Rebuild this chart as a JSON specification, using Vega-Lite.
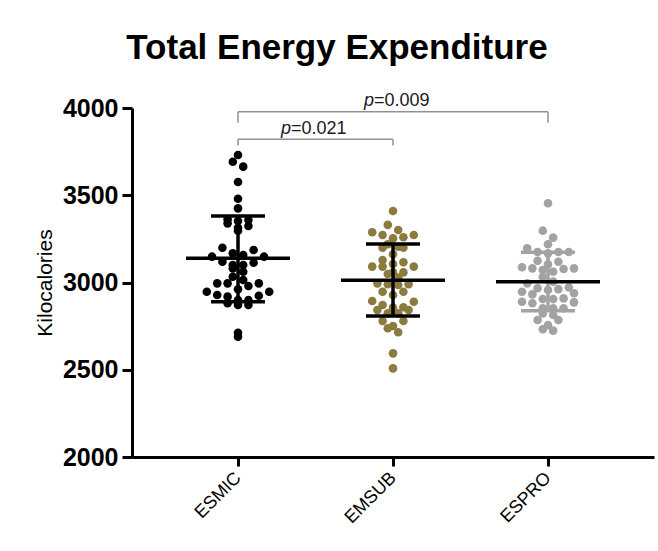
{
  "$schema": "https://vega.github.io/schema/vega-lite/v6.json",
  "width": 522,
  "height": 349,
  "autosize": "none",
  "padding": {"left": 132, "top": 108, "right": 4, "bottom": 94},
  "background": "white",
  "config": {
    "font": "Liberation Sans",
    "view": {"stroke": null},
    "axis": {"labelFont": "Liberation Sans", "titleFont": "Liberation Sans", "labelColor": "black", "titleColor": "black", "domainColor": "black", "tickColor": "black", "grid": false}
  },
  "title": {
    "text": "Total Energy Expenditure",
    "font": "Liberation Sans",
    "fontSize": 35,
    "fontWeight": "bold",
    "color": "black",
    "anchor": "middle",
    "baseline": "alphabetic",
    "offset": -2,
    "dx": -56
  },
  "datasets": {
    "points": [
      {"group": "ESMIC", "kcal": 3731}, {"group": "ESMIC", "kcal": 3692}, {"group": "ESMIC", "kcal": 3664}, {"group": "ESMIC", "kcal": 3576},
      {"group": "ESMIC", "kcal": 3480}, {"group": "ESMIC", "kcal": 3425}, {"group": "ESMIC", "kcal": 3352}, {"group": "ESMIC", "kcal": 3324},
      {"group": "ESMIC", "kcal": 3362}, {"group": "ESMIC", "kcal": 3358}, {"group": "ESMIC", "kcal": 3314}, {"group": "ESMIC", "kcal": 3339},
      {"group": "ESMIC", "kcal": 3297}, {"group": "ESMIC", "kcal": 3186}, {"group": "ESMIC", "kcal": 3199}, {"group": "ESMIC", "kcal": 3158},
      {"group": "ESMIC", "kcal": 3148}, {"group": "ESMIC", "kcal": 3167}, {"group": "ESMIC", "kcal": 3119}, {"group": "ESMIC", "kcal": 3148},
      {"group": "ESMIC", "kcal": 3113}, {"group": "ESMIC", "kcal": 3100}, {"group": "ESMIC", "kcal": 3100}, {"group": "ESMIC", "kcal": 3081},
      {"group": "ESMIC", "kcal": 3062}, {"group": "ESMIC", "kcal": 3033}, {"group": "ESMIC", "kcal": 3014}, {"group": "ESMIC", "kcal": 2995},
      {"group": "ESMIC", "kcal": 2995}, {"group": "ESMIC", "kcal": 2980}, {"group": "ESMIC", "kcal": 2995}, {"group": "ESMIC", "kcal": 2961},
      {"group": "ESMIC", "kcal": 2947}, {"group": "ESMIC", "kcal": 2947}, {"group": "ESMIC", "kcal": 2928}, {"group": "ESMIC", "kcal": 2919},
      {"group": "ESMIC", "kcal": 2924}, {"group": "ESMIC", "kcal": 2900}, {"group": "ESMIC", "kcal": 2900}, {"group": "ESMIC", "kcal": 2871},
      {"group": "ESMIC", "kcal": 2871}, {"group": "ESMIC", "kcal": 2881}, {"group": "ESMIC", "kcal": 2689}, {"group": "ESMIC", "kcal": 2712},
      {"group": "EMSUB", "kcal": 3410}, {"group": "EMSUB", "kcal": 3330}, {"group": "EMSUB", "kcal": 3301}, {"group": "EMSUB", "kcal": 3272},
      {"group": "EMSUB", "kcal": 3259}, {"group": "EMSUB", "kcal": 3272}, {"group": "EMSUB", "kcal": 3288}, {"group": "EMSUB", "kcal": 3253},
      {"group": "EMSUB", "kcal": 3219}, {"group": "EMSUB", "kcal": 3199}, {"group": "EMSUB", "kcal": 3199}, {"group": "EMSUB", "kcal": 3205},
      {"group": "EMSUB", "kcal": 3162}, {"group": "EMSUB", "kcal": 3116}, {"group": "EMSUB", "kcal": 3129}, {"group": "EMSUB", "kcal": 3091},
      {"group": "EMSUB", "kcal": 3091}, {"group": "EMSUB", "kcal": 3091}, {"group": "EMSUB", "kcal": 3106}, {"group": "EMSUB", "kcal": 3058},
      {"group": "EMSUB", "kcal": 3049}, {"group": "EMSUB", "kcal": 3058}, {"group": "EMSUB", "kcal": 3028}, {"group": "EMSUB", "kcal": 2995},
      {"group": "EMSUB", "kcal": 2986}, {"group": "EMSUB", "kcal": 2990}, {"group": "EMSUB", "kcal": 2990}, {"group": "EMSUB", "kcal": 2947},
      {"group": "EMSUB", "kcal": 2928}, {"group": "EMSUB", "kcal": 2947}, {"group": "EMSUB", "kcal": 2890}, {"group": "EMSUB", "kcal": 2894},
      {"group": "EMSUB", "kcal": 2858}, {"group": "EMSUB", "kcal": 2842}, {"group": "EMSUB", "kcal": 2871}, {"group": "EMSUB", "kcal": 2856},
      {"group": "EMSUB", "kcal": 2823}, {"group": "EMSUB", "kcal": 2842}, {"group": "EMSUB", "kcal": 2823}, {"group": "EMSUB", "kcal": 2779},
      {"group": "EMSUB", "kcal": 2779}, {"group": "EMSUB", "kcal": 2751}, {"group": "EMSUB", "kcal": 2738}, {"group": "EMSUB", "kcal": 2715},
      {"group": "EMSUB", "kcal": 2594}, {"group": "EMSUB", "kcal": 2508},
      {"group": "ESPRO", "kcal": 3454}, {"group": "ESPRO", "kcal": 3297}, {"group": "ESPRO", "kcal": 3257}, {"group": "ESPRO", "kcal": 3219},
      {"group": "ESPRO", "kcal": 3175}, {"group": "ESPRO", "kcal": 3167}, {"group": "ESPRO", "kcal": 3196}, {"group": "ESPRO", "kcal": 3175},
      {"group": "ESPRO", "kcal": 3175}, {"group": "ESPRO", "kcal": 3119}, {"group": "ESPRO", "kcal": 3125}, {"group": "ESPRO", "kcal": 3104},
      {"group": "ESPRO", "kcal": 3087}, {"group": "ESPRO", "kcal": 3081}, {"group": "ESPRO", "kcal": 3072}, {"group": "ESPRO", "kcal": 3062},
      {"group": "ESPRO", "kcal": 3077}, {"group": "ESPRO", "kcal": 3081}, {"group": "ESPRO", "kcal": 3033}, {"group": "ESPRO", "kcal": 3005},
      {"group": "ESPRO", "kcal": 2995}, {"group": "ESPRO", "kcal": 2967}, {"group": "ESPRO", "kcal": 2947}, {"group": "ESPRO", "kcal": 2932},
      {"group": "ESPRO", "kcal": 2957}, {"group": "ESPRO", "kcal": 2938}, {"group": "ESPRO", "kcal": 2962}, {"group": "ESPRO", "kcal": 2971},
      {"group": "ESPRO", "kcal": 2905}, {"group": "ESPRO", "kcal": 2886}, {"group": "ESPRO", "kcal": 2881}, {"group": "ESPRO", "kcal": 2909},
      {"group": "ESPRO", "kcal": 2890}, {"group": "ESPRO", "kcal": 2905}, {"group": "ESPRO", "kcal": 2852}, {"group": "ESPRO", "kcal": 2852},
      {"group": "ESPRO", "kcal": 2852}, {"group": "ESPRO", "kcal": 2814}, {"group": "ESPRO", "kcal": 2823}, {"group": "ESPRO", "kcal": 2785},
      {"group": "ESPRO", "kcal": 2785}, {"group": "ESPRO", "kcal": 2756}, {"group": "ESPRO", "kcal": 2724}, {"group": "ESPRO", "kcal": 2732}
    ],
    "stats": [
      {"group": "ESMIC", "mean": 3139, "lower": 2890, "upper": 3381},
      {"group": "EMSUB", "mean": 3013, "lower": 2808, "upper": 3221},
      {"group": "ESPRO", "mean": 3005, "lower": 2838, "upper": 3173}
    ],
    "brackets": [
      {"g1": "ESMIC", "g2": "ESPRO", "top": 3979, "foot": 3916, "label": "=0.009"},
      {"g1": "ESMIC", "g2": "EMSUB", "top": 3821, "foot": 3785, "label": "=0.021"}
    ]
  },
  "layer": [
    {
      "data": {"name": "points"},
      "transform": [
        {"bin": {"step": 50, "anchor": 0}, "field": "kcal", "as": "row"},
        {"window": [{"op": "row_number", "as": "k"}, {"op": "count", "as": "n"}], "groupby": ["group", "row"], "sort": [{"field": "kcal", "order": "ascending"}], "frame": [null, null]},
        {"calculate": "(datum.n % 2 == 1) ? ((datum.k - 1) % 2 == 1 ? datum.k : -(datum.k - 1)) : ((datum.k - 1) % 2 == 0 ? datum.k : -(datum.k - 1))", "as": "slot"}
      ],
      "mark": {"type": "circle", "size": 74, "opacity": 1},
      "encoding": {
        "x": {"field": "group", "type": "nominal", "scale": {"type": "point", "padding": 0.684, "domain": ["ESMIC", "EMSUB", "ESPRO"]},
          "axis": {"title": null, "labelAngle": -45, "labelAlign": "right", "labelBaseline": "middle", "labelFontSize": 18, "labelPadding": 9, "tickSize": 9, "tickWidth": 3, "domainWidth": 3}},
        "xOffset": {"field": "slot", "type": "quantitative", "scale": {"domain": [-10, 10], "range": [-52, 52]}},
        "y": {"field": "kcal", "type": "quantitative", "scale": {"domain": [2000, 4000], "nice": false},
          "axis": {"title": "Kilocalories", "format": "d", "values": [2000, 2500, 3000, 3500, 4000], "labelFontSize": 25, "labelFontWeight": "bold", "labelPadding": 4, "tickSize": 10, "tickWidth": 3, "domainWidth": 3, "titleFontSize": 21, "titleFontWeight": "normal", "titlePadding": 7}},
        "color": {"field": "group", "type": "nominal", "scale": {"domain": ["ESMIC", "EMSUB", "ESPRO"], "range": ["#000000", "#8b7b3e", "#a3a3a3"]}, "legend": null}
      }
    },
    {
      "data": {"name": "stats"},
      "mark": {"type": "rule", "strokeWidth": 3.5, "opacity": 1},
      "encoding": {
        "x": {"field": "group", "type": "nominal"},
        "y": {"field": "lower", "type": "quantitative"},
        "y2": {"field": "upper"},
        "color": {"condition": {"test": "datum.group == 'ESPRO'", "value": "#a3a3a3"}, "value": "#000000"}
      }
    },
    {
      "data": {"name": "stats"},
      "mark": {"type": "tick", "size": 54, "thickness": 3.5, "opacity": 1},
      "encoding": {
        "x": {"field": "group", "type": "nominal"},
        "y": {"field": "upper", "type": "quantitative"},
        "color": {"condition": {"test": "datum.group == 'ESPRO'", "value": "#a3a3a3"}, "value": "#000000"}
      }
    },
    {
      "data": {"name": "stats"},
      "mark": {"type": "tick", "size": 54, "thickness": 3.5, "opacity": 1},
      "encoding": {
        "x": {"field": "group", "type": "nominal"},
        "y": {"field": "lower", "type": "quantitative"},
        "color": {"condition": {"test": "datum.group == 'ESPRO'", "value": "#a3a3a3"}, "value": "#000000"}
      }
    },
    {
      "data": {"name": "stats"},
      "mark": {"type": "tick", "size": 104, "thickness": 3.5, "color": "#000000", "opacity": 1},
      "encoding": {
        "x": {"field": "group", "type": "nominal"},
        "y": {"field": "mean", "type": "quantitative"}
      }
    },
    {
      "data": {"name": "brackets"},
      "mark": {"type": "rule", "color": "#909090", "strokeWidth": 1.5},
      "encoding": {
        "x": {"field": "g1", "type": "nominal"},
        "x2": {"field": "g2"},
        "y": {"field": "top", "type": "quantitative"}
      }
    },
    {
      "data": {"name": "brackets"},
      "mark": {"type": "rule", "color": "#909090", "strokeWidth": 1.5},
      "encoding": {
        "x": {"field": "g1", "type": "nominal"},
        "y": {"field": "top", "type": "quantitative"},
        "y2": {"field": "foot"}
      }
    },
    {
      "data": {"name": "brackets"},
      "mark": {"type": "rule", "color": "#909090", "strokeWidth": 1.5},
      "encoding": {
        "x": {"field": "g2", "type": "nominal"},
        "y": {"field": "top", "type": "quantitative"},
        "y2": {"field": "foot"}
      }
    },
    {
      "data": {"name": "brackets"},
      "transform": [{"filter": "datum.label == '=0.009'"}],
      "mark": {"type": "text", "text": "p", "fontStyle": "italic", "fontSize": 18, "align": "right", "baseline": "alphabetic", "dx": 136, "dy": -5.5, "color": "#1a1a1a"},
      "encoding": {
        "x": {"field": "g1", "type": "nominal"},
        "y": {"field": "top", "type": "quantitative"}
      }
    },
    {
      "data": {"name": "brackets"},
      "transform": [{"filter": "datum.label == '=0.009'"}],
      "mark": {"type": "text", "fontSize": 18, "align": "left", "baseline": "alphabetic", "dx": 136, "dy": -5.5, "color": "#1a1a1a"},
      "encoding": {
        "x": {"field": "g1", "type": "nominal"},
        "y": {"field": "top", "type": "quantitative"},
        "text": {"field": "label"}
      }
    },
    {
      "data": {"name": "brackets"},
      "transform": [{"filter": "datum.label == '=0.021'"}],
      "mark": {"type": "text", "text": "p", "fontStyle": "italic", "fontSize": 18, "align": "right", "baseline": "alphabetic", "dx": 53, "dy": -5.5, "color": "#1a1a1a"},
      "encoding": {
        "x": {"field": "g1", "type": "nominal"},
        "y": {"field": "top", "type": "quantitative"}
      }
    },
    {
      "data": {"name": "brackets"},
      "transform": [{"filter": "datum.label == '=0.021'"}],
      "mark": {"type": "text", "fontSize": 18, "align": "left", "baseline": "alphabetic", "dx": 53, "dy": -5.5, "color": "#1a1a1a"},
      "encoding": {
        "x": {"field": "g1", "type": "nominal"},
        "y": {"field": "top", "type": "quantitative"},
        "text": {"field": "label"}
      }
    }
  ]
}
